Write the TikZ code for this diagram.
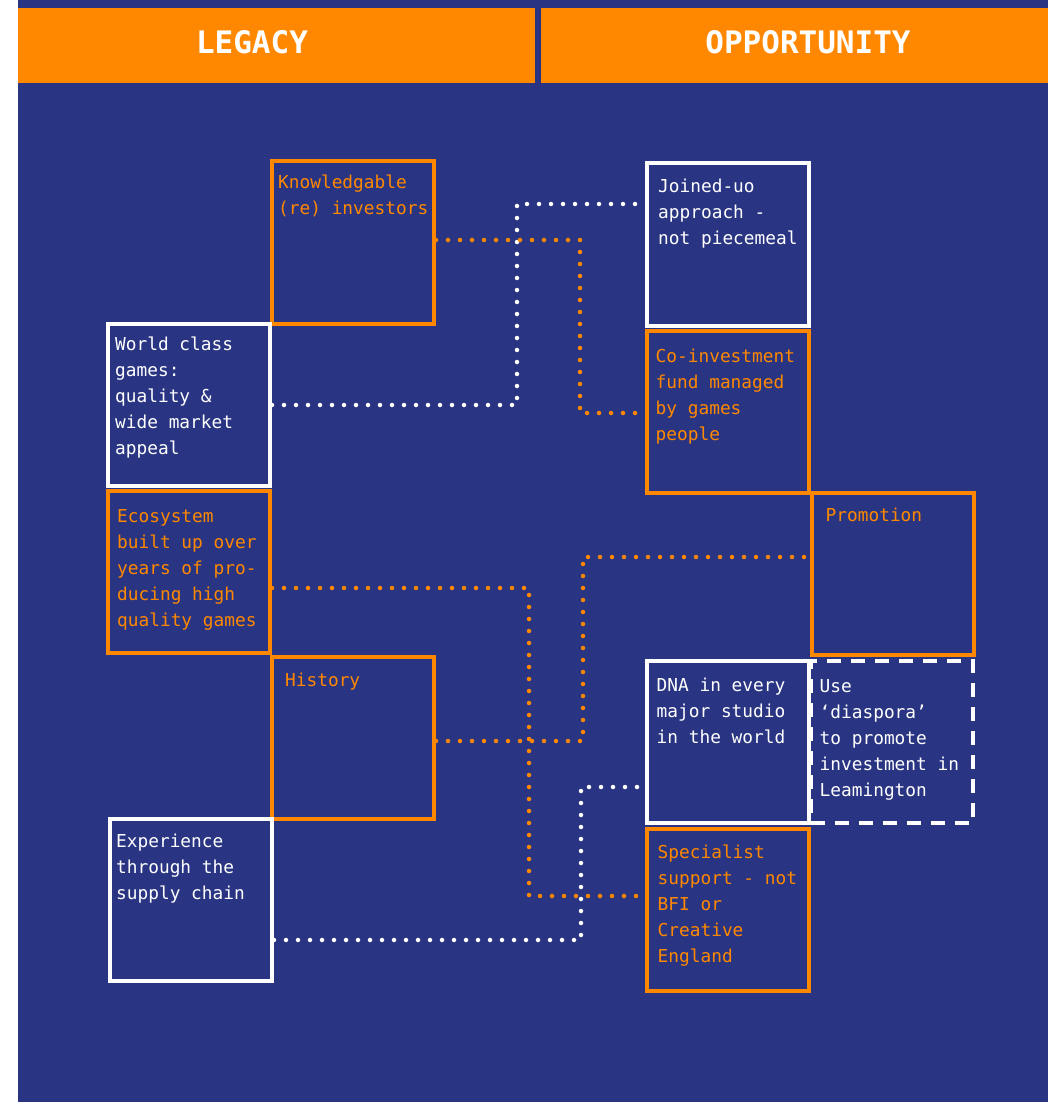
\documentclass[tikz,border=0pt]{standalone}
\usepackage{fontspec}
\usepackage{tikz}
\usetikzlibrary{positioning, calc}
\newfontfamily\boxfont{DejaVu Sans Mono}
\definecolor{navy}{HTML}{293582}
\definecolor{orng}{HTML}{FF8800}

\begin{document}
\begin{tikzpicture}[x=1pt, y=-1pt]
\tikzset{Box/.style={shape=rectangle, line width=4pt, minimum width=162pt, minimum height=162pt, inner sep=0pt}}
\tikzset{OBox/.style={Box, draw=orng}}
\tikzset{WBox/.style={Box, draw=white}}
\tikzset{DBox/.style={Box, draw=white, dash pattern=on 14pt off 10pt}}
\tikzset{Txt/.style={anchor=north west, inner sep=0pt, align=left, font=\boxfont\fontsize{17.8}{26}\selectfont}}
\tikzset{OTxt/.style={Txt, text=orng}}
\tikzset{WTxt/.style={Txt, text=white}}
\tikzset{Head/.style={text=white, inner sep=0pt, font=\boxfont\bfseries\fontsize{31}{36}\selectfont}}
\tikzset{Dots/.style={line width=4.5pt, line cap=round, dash pattern=on 0pt off 12pt}}

\useasboundingbox (0,0) rectangle (1048,1102);
\fill[navy] (18,0) rectangle (1048,1102);
\fill[orng] (18,8) rectangle (535,83);
\fill[orng] (541,8) rectangle (1048,83);
\node[Head] (legacy) at (252,42) {LEGACY};
\node[Head] (opport) at (808,42) {OPPORTUNITY};

% legacy side
\node[OBox] (know) at (353,242.5) {};
\node[WBox] (world) at (189,404.5) {};
\node[OBox] (eco) at (189,571.5) {};
\node[OBox] (hist) at (353,738) {};
\node[WBox] (exp) at (191,899.5) {};
\node[OTxt, below right=15pt and 8pt of know.north west] (knowt) {Knowledgable\\(re) investors};
\node[WTxt, below right=15pt and 9pt of world.north west] (worldt) {World class\\games:\\quality \&\\wide market\\appeal};
\node[OTxt, below right=21pt and 11pt of eco.north west] (ecot) {Ecosystem\\built up over\\years of pro-\\ducing high\\quality games};
\node[OTxt, below right=18pt and 15pt of hist.north west] (histt) {History};
\node[WTxt, below right=17pt and 8pt of exp.north west] (expt) {Experience\\through the\\supply chain};

% opportunity side
\node[WBox] (joined) at (728,244.5) {};
\node[OBox] (coinv) at (727.5,411.5) {};
\node[OBox] (promo) at (892.5,574) {};
\node[DBox] (dias) at (891.5,742) {};
\node[WBox] (dna) at (727.5,742) {};
\node[OBox] (spec) at (727.5,910) {};
\node[WTxt, below right=17pt and 13pt of joined.north west] (joinedt) {Joined-uo\\approach -\\not piecemeal};
\node[OTxt, below right=20pt and 11pt of coinv.north west] (coinvt) {Co-investment\\fund managed\\by games\\people};
\node[OTxt, below right=17pt and 16pt of promo.north west] (promot) {Promotion};
\node[WTxt, below right=19pt and 12pt of dna.north west] (dnat) {DNA in every\\major studio\\in the world};
\node[WTxt, below right=20pt and 11pt of dias.north west] (diast) {Use\\‘diaspora’\\to promote\\investment in\\Leamington};
\node[OTxt, below right=18pt and 13pt of spec.north west] (spect) {Specialist\\support - not\\BFI or\\Creative\\England};

% links
\coordinate (w1a) at (517,405);
\coordinate (w1b) at (517,204);
\coordinate (w2a) at (581,940);
\coordinate (w2b) at (581,787);
\coordinate (o1a) at (580,240);
\coordinate (o1b) at (580,413);
\coordinate (o2a) at (529,588);
\coordinate (o2b) at (529,896);
\coordinate (o3a) at (583,741);
\coordinate (o3b) at (583,557);
\draw[Dots, white] (world.east |- w1a) -- (w1a) -- (w1b) -- (joined.west |- w1b);
\draw[Dots, white] (exp.east |- w2a) -- (w2a) -- (w2b) -- (dna.west |- w2b);
\draw[Dots, orng] (know.east |- o1a) -- (o1a) -- (o1b) -- (coinv.west |- o1b);
\draw[Dots, orng] (eco.east |- o2a) -- (o2a) -- (o2b) -- (spec.west |- o2b);
\draw[Dots, orng] (hist.east |- o3a) -- (o3a) -- (o3b) -- (promo.west |- o3b);
\end{tikzpicture}
\end{document}
